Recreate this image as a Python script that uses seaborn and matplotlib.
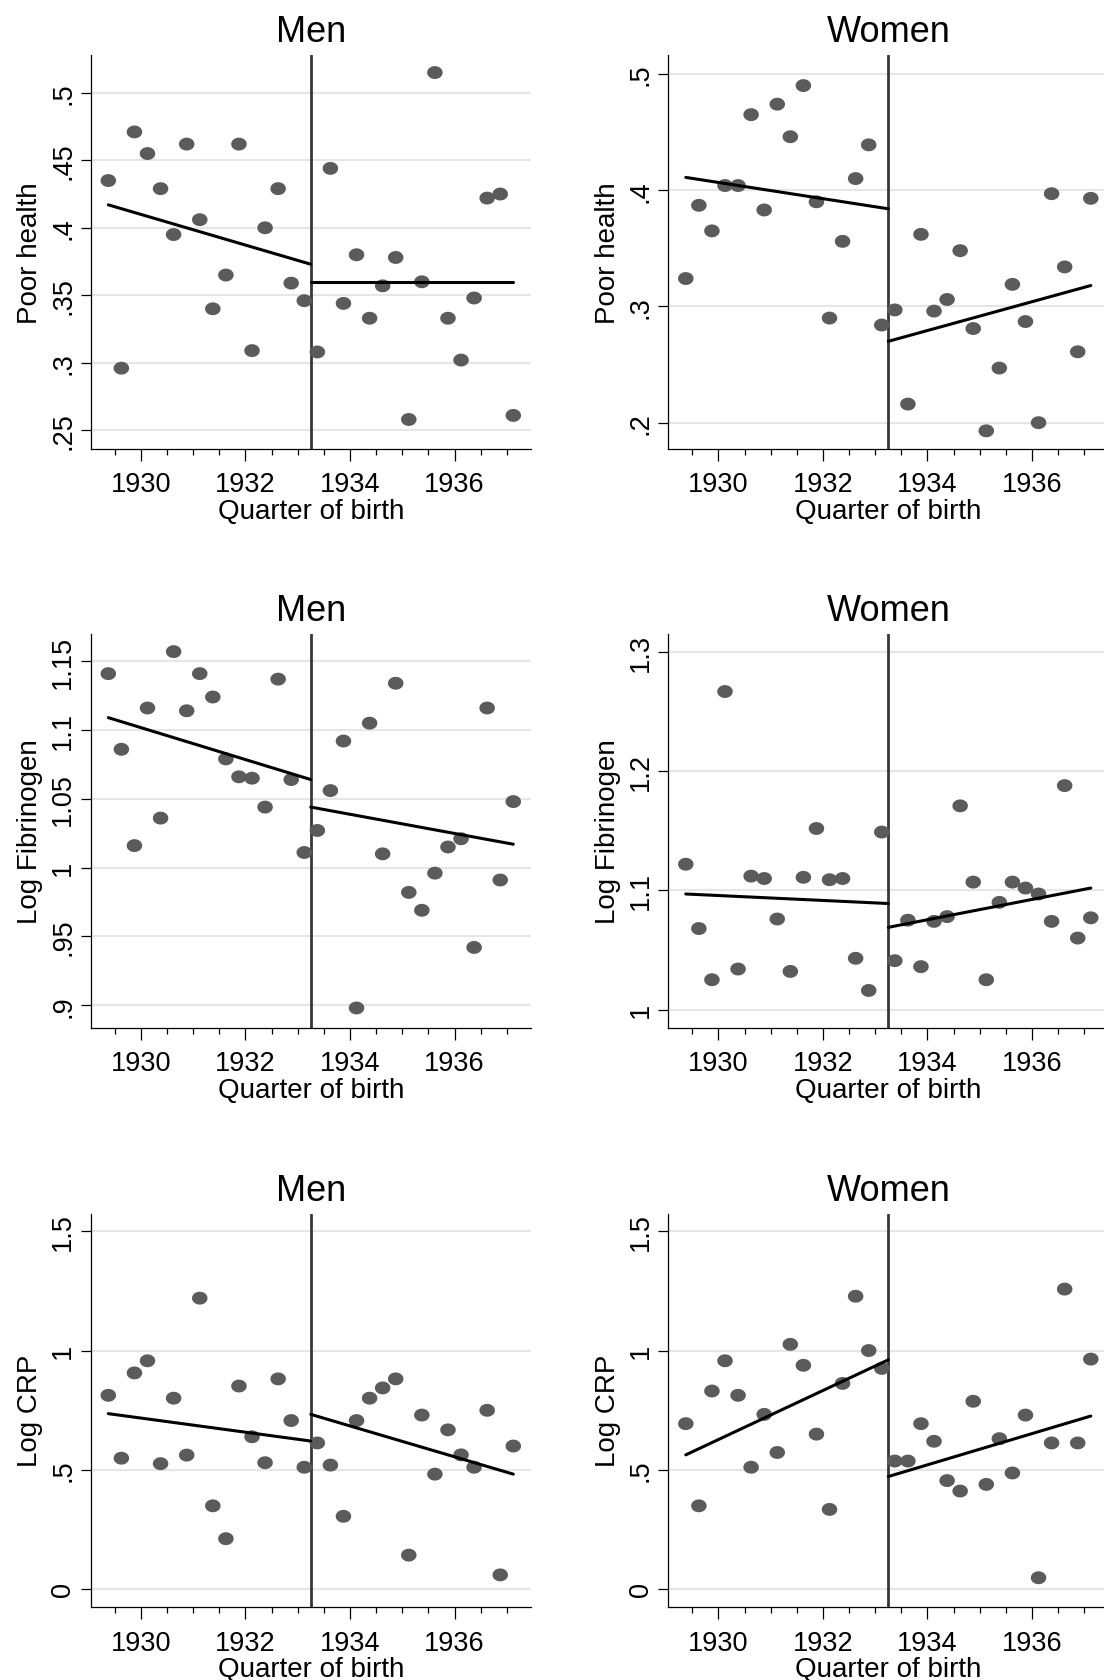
import matplotlib.pyplot as plt
from matplotlib.path import Path
import numpy as np
import seaborn as sns

sns.set_style("white")
plt.rcParams["font.family"] = ["Liberation Sans", "DejaVu Sans"]
plt.rcParams.update({"text.color": "black", "axes.labelcolor": "black",
                     "xtick.color": "black", "ytick.color": "black"})

# Quarter of birth (mid-quarter), 1929 Q2 .. 1937 Q1
quarter = [1929.375, 1929.625, 1929.875, 1930.125, 1930.375, 1930.625, 1930.875, 1931.125,
           1931.375, 1931.625, 1931.875, 1932.125, 1932.375, 1932.625, 1932.875, 1933.125,
           1933.375, 1933.625, 1933.875, 1934.125, 1934.375, 1934.625, 1934.875, 1935.125,
           1935.375, 1935.625, 1935.875, 1936.125, 1936.375, 1936.625, 1936.875, 1937.125]
cutoff = 1933.25

# Cell means
men_poor = [0.435, 0.296, 0.471, 0.455, 0.429, 0.395, 0.462, 0.406, 0.340, 0.365, 0.462, 0.309, 0.400, 0.429, 0.359, 0.346,
            0.308, 0.444, 0.344, 0.380, 0.333, 0.357, 0.378, 0.258, 0.360, 0.515, 0.333, 0.302, 0.348, 0.422, 0.425, 0.261]
women_poor = [0.324, 0.387, 0.365, 0.404, 0.404, 0.465, 0.383, 0.474, 0.446, 0.490, 0.390, 0.290, 0.356, 0.410, 0.439, 0.284,
              0.297, 0.216, 0.362, 0.296, 0.306, 0.348, 0.281, 0.193, 0.247, 0.319, 0.287, 0.200, 0.397, 0.334, 0.261, 0.393]
men_fib = [1.141, 1.086, 1.016, 1.116, 1.036, 1.157, 1.114, 1.141, 1.124, 1.079, 1.066, 1.065, 1.044, 1.137, 1.064, 1.011,
           1.027, 1.056, 1.092, 0.898, 1.105, 1.010, 1.134, 0.982, 0.969, 0.996, 1.015, 1.021, 0.942, 1.116, 0.991, 1.048]
women_fib = [1.122, 1.068, 1.025, 1.267, 1.034, 1.112, 1.110, 1.076, 1.032, 1.111, 1.152, 1.109, 1.110, 1.043, 1.016, 1.149,
             1.041, 1.075, 1.036, 1.074, 1.078, 1.171, 1.107, 1.025, 1.090, 1.107, 1.102, 1.097, 1.074, 1.188, 1.060, 1.077]
men_crp = [0.812, 0.548, 0.906, 0.957, 0.525, 0.800, 0.561, 1.220, 0.348, 0.210, 0.851, 0.638, 0.529, 0.881, 0.706, 0.510,
           0.612, 0.519, 0.304, 0.706, 0.800, 0.843, 0.881, 0.141, 0.729, 0.481, 0.667, 0.562, 0.510, 0.749, 0.058, 0.599]
women_crp = [0.693, 0.348, 0.830, 0.957, 0.812, 0.510, 0.732, 0.572, 1.026, 0.938, 0.649, 0.333, 0.862, 1.228, 1.000, 0.925,
             0.536, 0.536, 0.693, 0.619, 0.454, 0.410, 0.787, 0.438, 0.630, 0.486, 0.729, 0.046, 0.612, 1.258, 0.612, 0.964]

# Fitted lines: [left start, left at cutoff, right at cutoff, right end]
men_poor_fit = [0.417, 0.373, 0.360, 0.360]
women_poor_fit = [0.411, 0.384, 0.270, 0.318]
men_fib_fit = [1.109, 1.064, 1.044, 1.017]
women_fib_fit = [1.097, 1.089, 1.069, 1.102]
men_crp_fit = [0.735, 0.620, 0.732, 0.481]
women_crp_fit = [0.562, 0.961, 0.471, 0.725]

# Axis ticks
x_major = [1930, 1932, 1934, 1936]
x_minor = [1929.5, 1930.5, 1931, 1931.5, 1932.5, 1933, 1933.5, 1934.5, 1935, 1935.5, 1936.5, 1937]
poor_men_ticks, poor_men_labels = [0.25, 0.3, 0.35, 0.4, 0.45, 0.5], [".25", ".3", ".35", ".4", ".45", ".5"]
poor_women_ticks, poor_women_labels = [0.2, 0.3, 0.4, 0.5], [".2", ".3", ".4", ".5"]
fib_men_ticks, fib_men_labels = [0.9, 0.95, 1.0, 1.05, 1.1, 1.15], [".9", ".95", "1", "1.05", "1.1", "1.15"]
fib_women_ticks, fib_women_labels = [1.0, 1.1, 1.2, 1.3], ["1", "1.1", "1.2", "1.3"]
crp_ticks, crp_labels = [0, 0.5, 1, 1.5], ["0", ".5", "1", "1.5"]

panels = [
    ("Men", "Poor health", men_poor, men_poor_fit, poor_men_ticks, poor_men_labels, (0.2365, 0.528)),
    ("Women", "Poor health", women_poor, women_poor_fit, poor_women_ticks, poor_women_labels, (0.1778, 0.5163)),
    ("Men", "Log Fibrinogen", men_fib, men_fib_fit, fib_men_ticks, fib_men_labels, (0.8838, 1.1698)),
    ("Women", "Log Fibrinogen", women_fib, women_fib_fit, fib_women_ticks, fib_women_labels, (0.9849, 1.3153)),
    ("Men", "Log CRP", men_crp, men_crp_fit, crp_ticks, crp_labels, (-0.0768, 1.5754)),
    ("Women", "Log CRP", women_crp, women_crp_fit, crp_ticks, crp_labels, (-0.0768, 1.5754)),
]

# Stata-like slightly flattened dot
t = np.linspace(0, 2 * np.pi, 41)
dot = Path(np.column_stack([np.cos(t), 0.83 * np.sin(t)]), closed=True)

W, H = 1104, 1681
fig = plt.figure(figsize=(W / 100, H / 100), dpi=100)
col_left = [90.8, 668.3]
row_top = [56.0, 635.0, 1214.5]
ax_w, ax_h = 440.0, 393.5

for i, (title, ylab, vals, fit, yt, ytl, ylim) in enumerate(panels):
    r, c = divmod(i, 2)
    ax = fig.add_axes([col_left[c] / W, 1 - (row_top[r] + ax_h) / H, ax_w / W, ax_h / H])

    ax.axvline(cutoff, color="#383838", lw=2.0, zorder=2)
    sns.scatterplot(x=quarter, y=vals, ax=ax, marker=dot, s=125, color="#5b5b5b",
                    edgecolor="none", linewidth=0, zorder=3)
    sns.lineplot(x=[quarter[0], cutoff], y=fit[:2], ax=ax, color="black", lw=2.2, zorder=4)
    sns.lineplot(x=[cutoff, quarter[-1]], y=fit[2:], ax=ax, color="black", lw=2.2, zorder=4)

    ax.set_xlim(1929.04, 1937.46)
    ax.set_ylim(*ylim)
    ax.set_xticks(x_major)
    ax.set_xticklabels([str(x) for x in x_major])
    ax.set_xticks(x_minor, minor=True)
    ax.set_yticks(yt)
    ax.set_yticklabels(ytl, rotation=90, va="center")

    ax.grid(axis="y", color="#e6e6e6", lw=1.5, zorder=0)
    ax.set_axisbelow(True)
    for s in ["top", "right"]:
        ax.spines[s].set_visible(False)
    for s in ["left", "bottom"]:
        ax.spines[s].set_color("black")
        ax.spines[s].set_linewidth(0.9)

    ax.tick_params(axis="x", which="major", length=8.4, width=0.9, color="black",
                   labelsize=19.5, labelcolor="black", pad=8, direction="out", bottom=True)
    ax.tick_params(axis="x", which="minor", length=4.3, width=0.9, color="black",
                   direction="out", bottom=True)
    ax.tick_params(axis="y", length=7, width=0.9, color="black", labelsize=19.5,
                   labelcolor="black", pad=3.5, direction="out", left=True)

    ax.set_title(title, fontsize=26, pad=10, color="black")
    ax.set_xlabel("Quarter of birth", fontsize=20, color="black")
    ax.set_ylabel(ylab, fontsize=20, color="black")
    ax.xaxis.set_label_coords(0.5, -0.125)
    ax.yaxis.set_label_coords(-0.108, 0.5)

fig.savefig("out.png", dpi=100)
